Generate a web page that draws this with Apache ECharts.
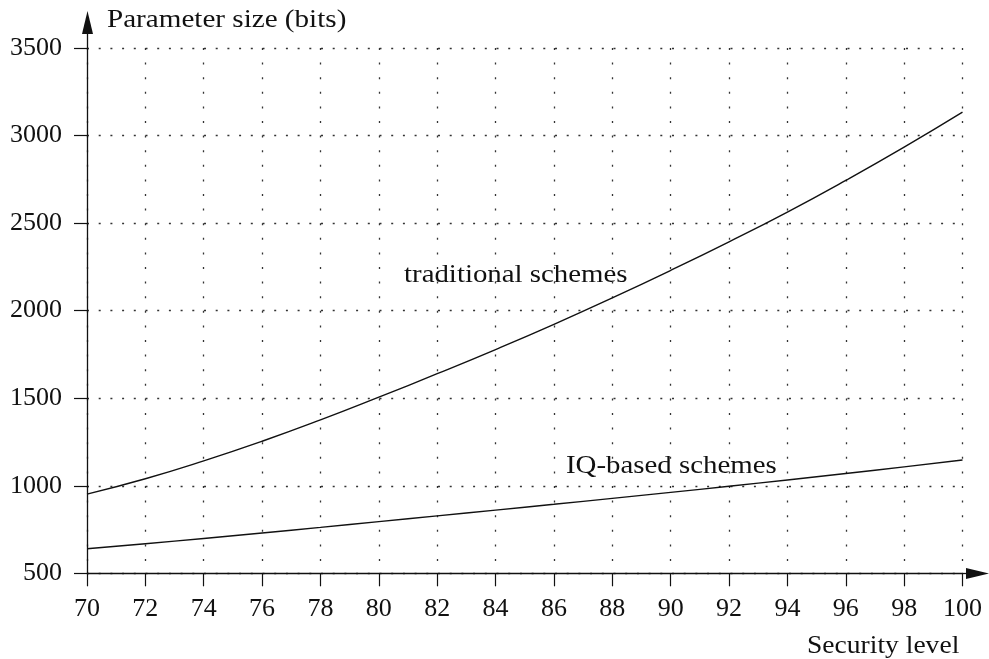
<!DOCTYPE html>
<html>
<head>
<meta charset="utf-8">
<script src="https://cdn.jsdelivr.net/npm/echarts@6/dist/echarts.min.js"></script>
<style>
html,body{margin:0;padding:0;background:#fff;}
#chart{width:989px;height:659px;}
</style>
</head>
<body>
<div id="chart"></div>
<script>
const securityLevels = [70, 72, 74, 76, 78, 80, 82, 84, 86, 88, 90, 92, 94, 96, 98, 100];
const traditionalBits = [952, 1040, 1142, 1254, 1376, 1506, 1640, 1778, 1922, 2073, 2230, 2393, 2563, 2744, 2934, 3134];
const iqBasedBits = [640, 669, 699, 730, 762, 795, 828, 861, 894, 928, 962, 997, 1033, 1070, 1108, 1147];
const yAxisTitle = 'Parameter size (bits)';
const xAxisTitle = 'Security level';
const traditionalLabel = 'traditional schemes';
const iqLabel = 'IQ-based schemes';

const FONT = '"Liberation Serif", "Times New Roman", serif';
const chart = echarts.init(document.getElementById('chart'), null, {renderer: 'canvas'});

const pair = (xs, ys) => xs.map((x, i) => [x, ys[i]]);

const option = {
  animation: false,
  backgroundColor: '#ffffff',
  grid: {left: 87, right: 26.5, top: 48, bottom: 85.7, containLabel: false},
  xAxis: {
    type: 'value', min: 70, max: 100, interval: 2,
    axisLine: {show: true, lineStyle: {color: '#111', width: 1.3}},
    axisTick: {show: true, inside: false, length: 13, lineStyle: {color: '#111', width: 1.2}},
    axisLabel: {color: '#111', fontFamily: FONT, fontSize: 26, margin: 23, formatter: v => String(v)},
    splitLine: {show: true, lineStyle: {color: '#333', width: 1.3, type: [2, 12.6]}}
  },
  yAxis: {
    type: 'value', min: 500, max: 3500, interval: 500,
    axisLine: {show: true, lineStyle: {color: '#111', width: 1.3}},
    axisTick: {show: true, inside: false, length: 13, lineStyle: {color: '#111', width: 1.2}},
    axisLabel: {color: '#111', fontFamily: FONT, fontSize: 26, margin: 25, formatter: v => String(v)},
    splitLine: {show: true, lineStyle: {color: '#333', width: 1.3, type: [2, 9.7]}}
  },
  series: [
    {type: 'line', name: traditionalLabel, data: pair(securityLevels, traditionalBits), smooth: true, showSymbol: false,
     lineStyle: {color: '#111', width: 1.4}},
    {type: 'line', name: iqLabel, data: pair(securityLevels, iqBasedBits), smooth: true, showSymbol: false,
     lineStyle: {color: '#111', width: 1.4}}
  ],
  graphic: [
    {type: 'line', shape: {x1: 87.5, y1: 48, x2: 87.5, y2: 30}, style: {stroke: '#111', lineWidth: 1.3}},
    {type: 'polygon', shape: {points: [[87.5, 11], [82, 34], [93, 34]]}, style: {fill: '#111'}},
    {type: 'line', shape: {x1: 962, y1: 573.5, x2: 975, y2: 573.5}, style: {stroke: '#111', lineWidth: 1.3}},
    {type: 'polygon', shape: {points: [[989, 573.5], [966, 568], [966, 579]]}, style: {fill: '#111'}},
    {type: 'text', x: 107, y: 20, scaleX: 1.12,
     style: {text: yAxisTitle, font: '26px ' + FONT, fill: '#111', textAlign: 'left', textVerticalAlign: 'middle'}},
    {type: 'text', x: 807, y: 646, scaleX: 1.06,
     style: {text: xAxisTitle, font: '26px ' + FONT, fill: '#111', textAlign: 'left', textVerticalAlign: 'middle'}},
    {type: 'text', x: 404, y: 275.5, scaleX: 1.11,
     style: {text: traditionalLabel, font: '26px ' + FONT, fill: '#111', textAlign: 'left', textVerticalAlign: 'middle'}},
    {type: 'text', x: 566, y: 466, scaleX: 1.11,
     style: {text: iqLabel, font: '26px ' + FONT, fill: '#111', textAlign: 'left', textVerticalAlign: 'middle'}}
  ]
};
chart.setOption(option);
</script>
</body>
</html>
